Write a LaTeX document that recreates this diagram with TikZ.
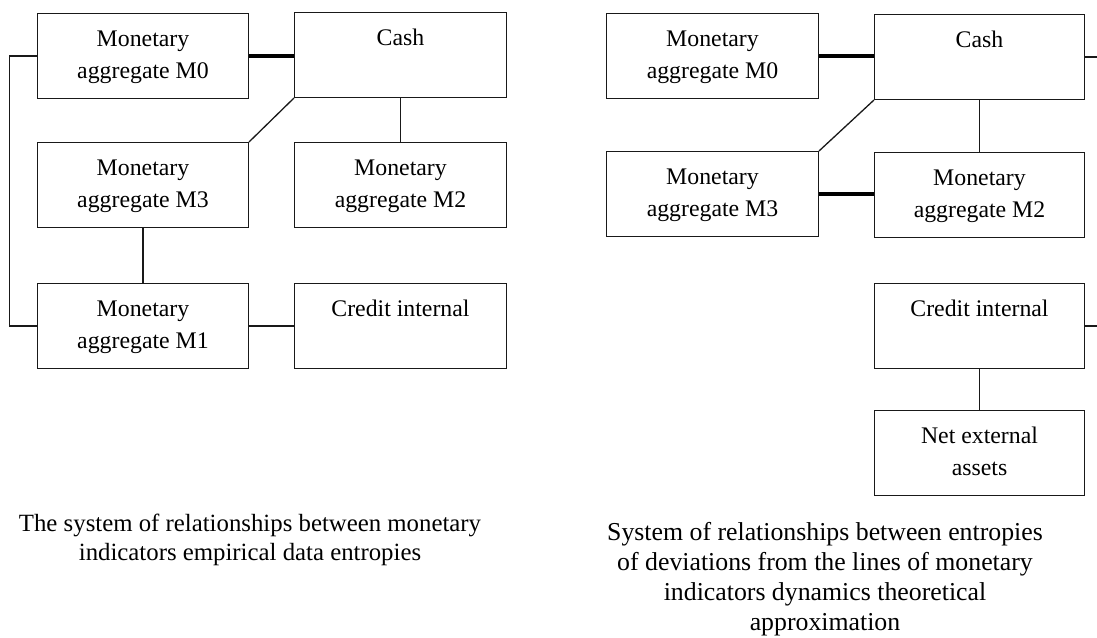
\documentclass[tikz,border=0pt]{standalone}
\usepackage{fontspec}
\setmainfont{Liberation Serif}
\newcommand{\boxtxt}[2]{\parbox[t][85pt][t]{#1}{\centering\rule{0pt}{32.7pt}#2}}
\begin{document}
\begin{tikzpicture}[x=1pt,y=-1pt,
  box/.style={draw=black!90, line width=1pt, inner sep=0pt, anchor=north west,
    font=\fontsize{23.8}{32}\selectfont},
  link/.style={draw=black!90, line width=1.3pt},
  thicklink/.style={draw=black, line width=3.2pt},
  caption/.style={align=center, inner sep=0pt, anchor=north,
    font=\fontsize{24.8}{29}\selectfont}]
\useasboundingbox (0,0) rectangle (1097,637);
% ---- left diagram ----
\node[box] (lm0)   at (37,13)   {\boxtxt{211pt}{Monetary\\aggregate M0}};
\node[box] (lcash) at (294,12)  {\boxtxt{212pt}{Cash}};
\node[box] (lm3)   at (37,142)  {\boxtxt{211pt}{Monetary\\aggregate M3}};
\node[box] (lm2)   at (294,142) {\boxtxt{212pt}{Monetary\\aggregate M2}};
\node[box] (lm1)   at (37,283)  {\boxtxt{211pt}{Monetary\\aggregate M1}};
\node[box] (lcr)   at (294,283) {\boxtxt{212pt}{Credit internal}};
\draw[thicklink] (lm0.east) -- (lm0.east -| lcash.west);
\draw[link] (lm0.west) -- ++(-27.5,0) |- (lm1.west);
\draw[link] (lcash.south west) -- (lm3.north east);
\draw[link] (lcash.south) -- (lm2.north);
\draw[link] (lm3.south) -- (lm1.north);
\draw[link] (lm1.east) -- (lcr.west);
% ---- right diagram ----
\coordinate (redge) at (1097,0);
\node[box] (rm0)   at (606,13)  {\boxtxt{212pt}{Monetary\\aggregate M0}};
\node[box] (rcash) at (874,14)  {\boxtxt{210pt}{Cash}};
\node[box] (rm3)   at (606,151) {\boxtxt{212pt}{Monetary\\aggregate M3}};
\node[box] (rm2)   at (874,152) {\boxtxt{210pt}{Monetary\\aggregate M2}};
\node[box] (rcr)   at (874,283) {\boxtxt{210pt}{Credit internal}};
\node[box] (rnet)  at (874,410) {\boxtxt{210pt}{Net external\\assets}};
\draw[thicklink] (rm0.east) -- (rm0.east -| rcash.west);
\draw[link] (rcash.south west) -- (rm3.north east);
\draw[link] (rcash.south) -- (rm2.north);
\draw[thicklink] (rm3.east) -- (rm3.east -| rm2.west);
\draw[link] (rcash.east) -- (rcash.east -| redge);
\draw[link] (rcr.east) -- (rcr.east -| redge);
\draw[link] (rcr.south) -- (rnet.north);
% ---- captions ----
\node[caption] (lcap) at (250,514) {The system of relationships between monetary\\indicators empirical data entropies};
\node[caption, font=\fontsize{25.8}{30}\selectfont] (rcap) at (825,522.5) {System of relationships between entropies\\of deviations from the lines of monetary\\indicators dynamics theoretical\\approximation};
\end{tikzpicture}
\end{document}
